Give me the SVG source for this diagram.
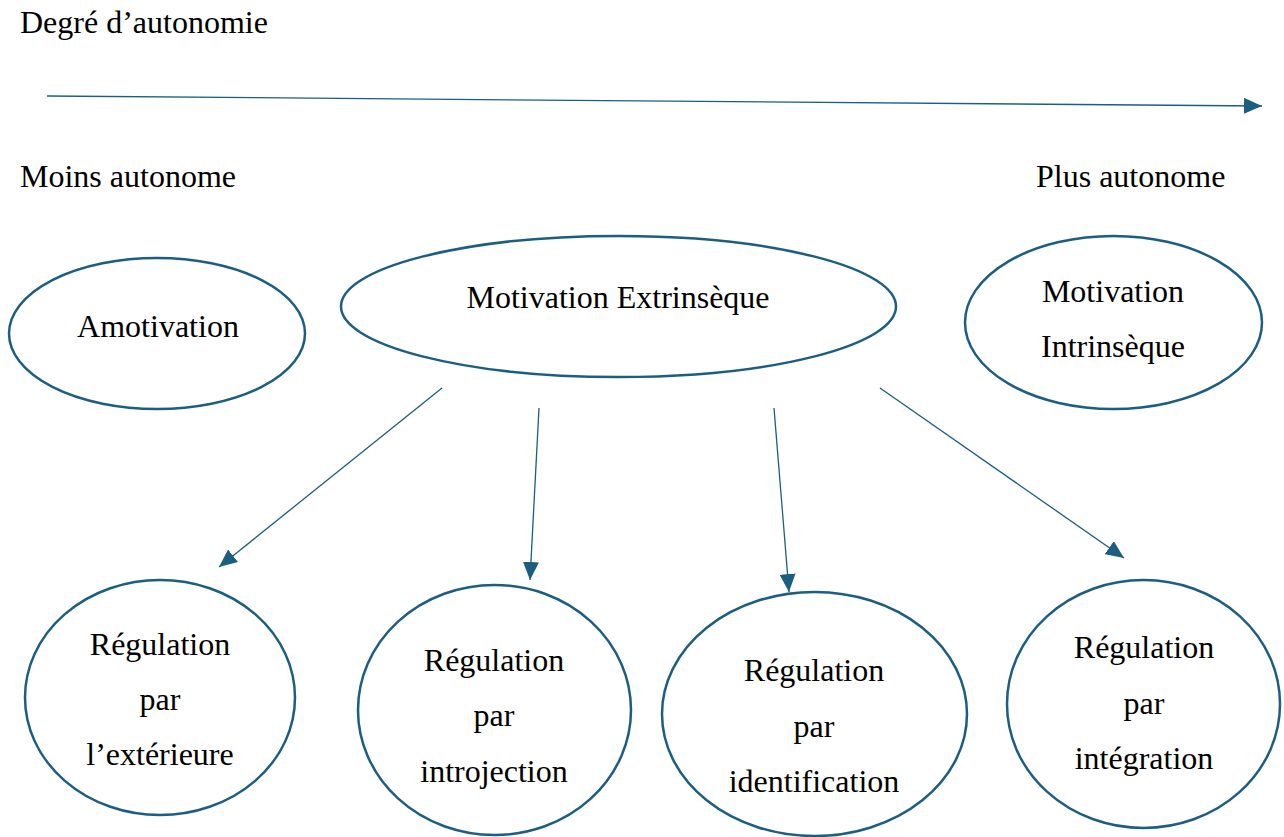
<svg xmlns="http://www.w3.org/2000/svg" width="1284" height="837" viewBox="0 0 1284 837">
<defs>
<marker id="ah" markerUnits="userSpaceOnUse" markerWidth="20" markerHeight="16" refX="18" refY="8" orient="auto">
<path d="M0,0 L18,8 L0,16 Z" fill="#1b5e82"/>
</marker>
<style>
text{font-family:"Liberation Serif","Times New Roman",serif;font-size:32px;fill:#000}
.c{text-anchor:middle}
ellipse{fill:#fff;stroke:#1b5e82;stroke-width:2.5}
.con line{stroke:#1b5e82;stroke-width:1.3;marker-end:url(#ah)}
</style>
</defs>
<rect width="1284" height="837" fill="#fff"/>
<text x="20" y="33">Degré d’autonomie</text>
<text x="20" y="187">Moins autonome</text>
<text x="1036" y="187">Plus autonome</text>
<g class="con" id="connectors">
<line x1="47" y1="96" x2="1262" y2="106"/>
<line x1="442" y1="388" x2="219" y2="567"/>
<line x1="539" y1="408" x2="530" y2="580"/>
<line x1="774" y1="408" x2="789" y2="592"/>
<line x1="880" y1="388" x2="1124" y2="558"/>
</g>
<g id="amotivation"><ellipse cx="157" cy="333.5" rx="148" ry="75.5"/><text class="c" x="158" y="337">Amotivation</text></g>
<g id="extrinseque"><ellipse cx="618.5" cy="306.5" rx="277.5" ry="70.5"/><text class="c" x="618" y="308">Motivation Extrinsèque</text></g>
<g id="intrinseque"><ellipse cx="1113.5" cy="322.5" rx="148.5" ry="86.5"/><text class="c" x="1113" y="302">Motivation</text><text class="c" x="1113" y="357">Intrinsèque</text></g>
<g id="exterieure"><ellipse cx="160" cy="697.5" rx="135" ry="117.5"/><text class="c" x="160" y="655">Régulation</text><text class="c" x="160" y="710">par</text><text class="c" x="160" y="765">l’extérieure</text></g>
<g id="introjection"><ellipse cx="494.5" cy="710" rx="136.5" ry="125"/><text class="c" x="494" y="671">Régulation</text><text class="c" x="494" y="726">par</text><text class="c" x="494" y="782">introjection</text></g>
<g id="identification"><ellipse cx="814.5" cy="714" rx="152.5" ry="122"/><text class="c" x="814" y="681">Régulation</text><text class="c" x="814" y="737">par</text><text class="c" x="814" y="792">identification</text></g>
<g id="integration"><ellipse cx="1143.5" cy="704" rx="136.5" ry="124"/><text class="c" x="1144" y="658">Régulation</text><text class="c" x="1144" y="714">par</text><text class="c" x="1144" y="769">intégration</text></g>
</svg>
